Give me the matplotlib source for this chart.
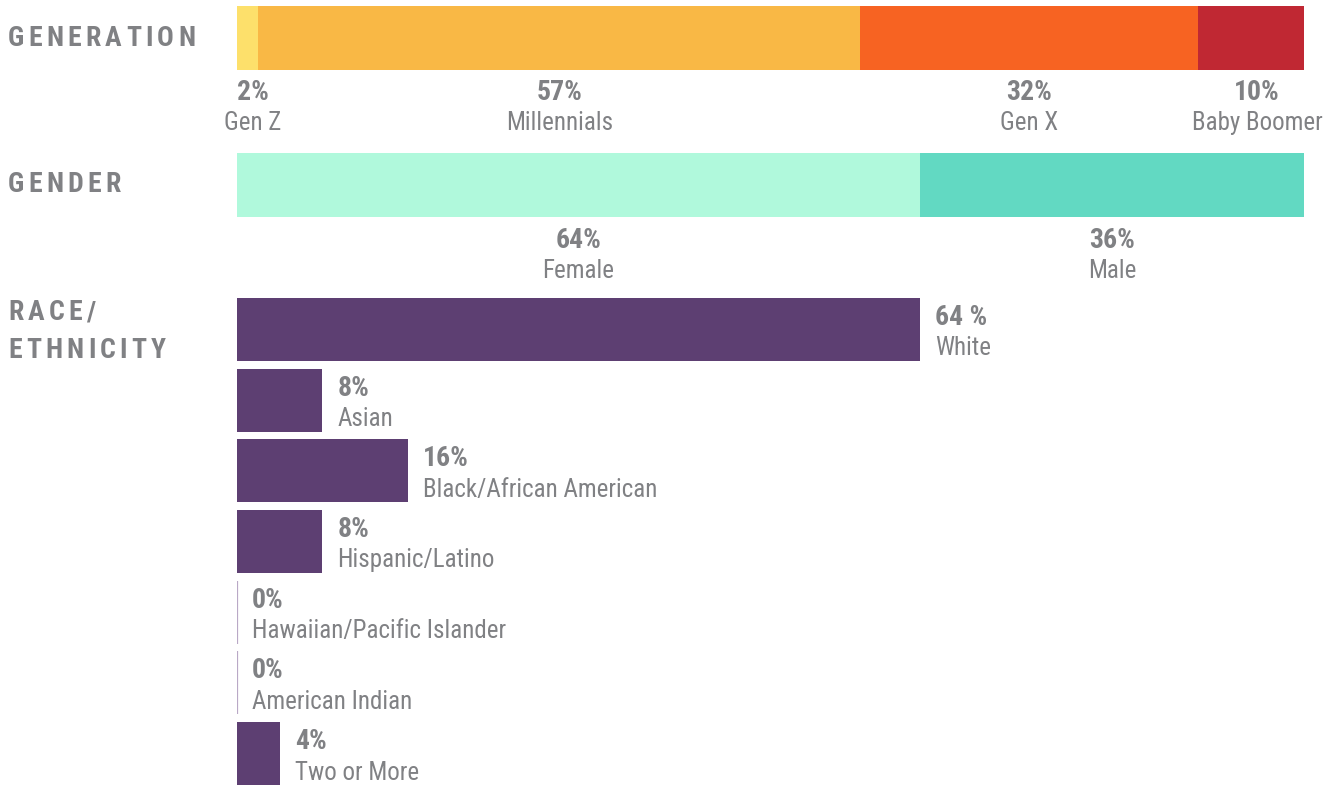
import matplotlib
matplotlib.use("Agg")
import matplotlib.pyplot as plt
from matplotlib import font_manager
from matplotlib.transforms import blended_transform_factory, offset_copy

# ---- data ----
gen_labels = ["Gen Z", "Millennials", "Gen X", "Baby Boomer"]
gen_values = [2, 57, 32, 10]
gen_colors = ["#fde06b", "#f9b845", "#f76322", "#c02833"]

gender_labels = ["Female", "Male"]
gender_values = [64, 36]
gender_colors = ["#b0f9dc", "#62d9c2"]

race_labels = ["White", "Asian", "Black/African American", "Hispanic/Latino",
               "Hawaiian/Pacific Islander", "American Indian", "Two or More"]
race_values = [64, 8, 16, 8, 0, 0, 4]
race_pct_text = ["64 %", "8%", "16%", "8%", "0%", "0%", "4%"]
race_color = "#5d3f72"
race_zero_color = "#b9a8c6"

headings = ["GENERATION", "GENDER", "RACE/", "ETHNICITY"]

# ---- fonts ----
def has_font(name):
    try:
        font_manager.findfont(font_manager.FontProperties(family=name), fallback_to_default=False)
        return True
    except Exception:
        return False

narrow = "DejaVu Sans"
for cand in ["Liberation Sans Narrow", "DejaVu Sans Condensed", "Roboto Condensed",
             "Open Sans Condensed", "Roboto"]:
    if has_font(cand):
        narrow = cand
        break

TXT = "#808184"
W, H = 1340, 786
fig = plt.figure(figsize=(W / 100, H / 100), dpi=100)
renderer = fig.canvas.get_renderer()

LEFT, RIGHT = 237, 1304
PCT_SIZE = 20
LAB_SIZE = 18

def axes_px(top, bottom):
    return fig.add_axes([LEFT / W, 1 - bottom / H, (RIGHT - LEFT) / W, (bottom - top) / H])

# ---- generation ----
axg = axes_px(6, 70)
left = 0
for lab, v, c in zip(gen_labels, gen_values, gen_colors):
    axg.barh(0, v, left=left, height=1, color=c, linewidth=0)
    left += v
axg.set_xlim(0, sum(gen_values))
axg.set_ylim(-0.5, 0.5)
axg.set_axis_off()
tg = blended_transform_factory(axg.transData, fig.transFigure)
gen_label_nudge = [5, 0, 0, 6]  # pixels
left = 0
for i, (lab, v) in enumerate(zip(gen_labels, gen_values)):
    cx = left + v / 2
    left += v
    t1 = offset_copy(tg, fig=fig, x=gen_label_nudge[i], y=0, units="dots")
    axg.text(cx, 1 - 93 / H, f"{v}%", transform=t1, ha="center", va="center",
             fontsize=PCT_SIZE, fontweight="bold", color=TXT, family=narrow)
    axg.text(cx, 1 - 123 / H, lab, transform=t1, ha="center", va="center",
             fontsize=LAB_SIZE, color=TXT, family=narrow)

# ---- gender ----
axs = axes_px(153, 217)
left = 0
for lab, v, c in zip(gender_labels, gender_values, gender_colors):
    axs.barh(0, v, left=left, height=1, color=c, linewidth=0)
    left += v
axs.set_xlim(0, sum(gender_values))
axs.set_ylim(-0.5, 0.5)
axs.set_axis_off()
ts = blended_transform_factory(axs.transData, fig.transFigure)
left = 0
for lab, v in zip(gender_labels, gender_values):
    cx = left + v / 2
    left += v
    axs.text(cx, 1 - 241 / H, f"{v}%", transform=ts, ha="center", va="center",
             fontsize=PCT_SIZE, fontweight="bold", color=TXT, family=narrow)
    axs.text(cx, 1 - 271 / H, lab, transform=ts, ha="center", va="center",
             fontsize=LAB_SIZE, color=TXT, family=narrow)

# ---- race ----
axr = axes_px(298, 785)
bh = 0.89
ypos = list(range(len(race_values)))
for y, v in zip(ypos, race_values):
    if v == 0:
        axr.barh(y, v, height=bh, color=race_zero_color, edgecolor=race_zero_color, linewidth=1.6)
    else:
        axr.barh(y, v, height=bh, color=race_color, linewidth=0)
axr.set_xlim(0, 100)
axr.set_ylim(len(race_values) - 1 + bh / 2, -bh / 2)
axr.set_axis_off()
for y, v, p, lab in zip(ypos, race_values, race_pct_text, race_labels):
    t1 = offset_copy(axr.transData, fig=fig, x=15, y=12, units="dots")
    t2 = offset_copy(axr.transData, fig=fig, x=15, y=-19, units="dots")
    axr.text(v, y, p, transform=t1, ha="left", va="center", fontsize=PCT_SIZE,
             fontweight="bold", color=TXT, family=narrow)
    axr.text(v, y, lab, transform=t2, ha="left", va="center", fontsize=LAB_SIZE,
             color=TXT, family=narrow)

# ---- headings with letter spacing ----
HEAD_SIZE = 20

def char_widths(s):
    ws = []
    for ch in s:
        t = fig.text(0, 0, ch, fontsize=HEAD_SIZE, fontweight="bold", family=narrow)
        ws.append(t.get_window_extent(renderer).width)
        t.remove()
    return ws

gw = char_widths("GENERATION")
tracking = (187 - sum(gw)) / (len(gw) - 1)

def tracked(s, x_px, y_px):
    ws = char_widths(s)
    x = x_px
    for ch, w in zip(s, ws):
        fig.text(x / W, 1 - y_px / H, ch, ha="left", va="center", fontsize=HEAD_SIZE,
                 fontweight="bold", color=TXT, family=narrow)
        x += w + tracking

tracked(headings[0], 8, 38)
tracked(headings[1], 8, 185)
tracked(headings[2], 8, 313)
tracked(headings[3], 8, 351)

fig.savefig("out.png", dpi=100)
